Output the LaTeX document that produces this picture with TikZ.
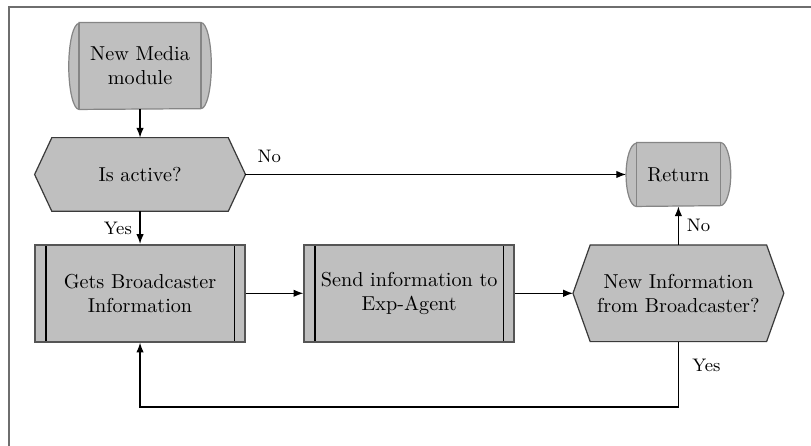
\documentclass[tikz,border=0pt]{standalone}
\usetikzlibrary{arrows.meta,positioning}
\definecolor{boxc}{HTML}{BFBFBF}
\definecolor{termc}{HTML}{858585}
\definecolor{hexc}{HTML}{3A3A3A}
\definecolor{procc}{HTML}{555555}
\definecolor{framec}{HTML}{6E6E6E}
\pgfdeclarelayer{bg}
\pgfsetlayers{bg,main}

\begin{document}
\begin{tikzpicture}[x=1cm,y=1cm,
  txt/.style={inner sep=0pt, align=center},
  lbl/.style={font=\small, inner sep=1pt},
  conn/.style={-{Latex[length=1.7mm,width=1.3mm]}, line width=0.6pt},
  termbox/.style={txt},
  hexbox/.style={txt, minimum width=3.66cm},
  procbox/.style={txt, draw=procc, line width=0.9pt, fill=boxc,
    minimum width=3.66cm, minimum height=1.69cm,
    path picture={
      \draw[black, line width=0.6pt]
        ([xshift=0.19cm]path picture bounding box.north west) -- ([xshift=0.19cm]path picture bounding box.south west)
        ([xshift=-0.19cm]path picture bounding box.north east) -- ([xshift=-0.19cm]path picture bounding box.south east);
    }}]
  \useasboundingbox (0,0) rectangle (14.13,-7.77);

  % ============================================================
  %                       PARAMETERS
  % ============================================================
  \def\bulge{0.18}     % cm of the round ends
  \def\slant{0.30}     % cm of the pointed ends

  % frame, cut by the page
  \draw[framec, line width=0.9pt] (0.16,-8.2) -- (0.16,-0.12) -- (14.6,-0.12);

  % ============================================================
  %                       NODES
  % ============================================================
  \node[termbox, minimum width=2.47cm, minimum height=1.50cm] (start) at (2.44,-1.15) {New Media\\module};
  \node[hexbox, minimum height=1.27cm] (active) at (2.44,-3.04) {Is active?};
  \node[termbox, minimum width=1.81cm, minimum height=1.10cm] (ret) at (11.82,-3.04) {Return};
  \node[procbox] (gets) at (2.44,-5.11) {Gets Broadcaster\\Information};
  \node[procbox] (send) at (7.13,-5.11) {Send information to\\Exp-Agent};
  \node[hexbox, minimum height=1.67cm] (newinfo) at (11.82,-5.11) {New Information\\from Broadcaster?};
  \coordinate (loopc) at (11.82,-7.09);

  % ============================================================
  %                       SHAPES (behind the text)
  % ============================================================
  \begin{pgfonlayer}{bg}
    \foreach \n/\h in {start/0.75, ret/0.55} {
      \draw[termc, fill=boxc, line width=0.6pt]
        ([xshift=\bulge cm]\n.north west) -- ([xshift=-\bulge cm]\n.north east)
        arc[start angle=90, end angle=-90, x radius=\bulge, y radius=\h]
        -- ([xshift=\bulge cm]\n.south west)
        arc[start angle=270, end angle=90, x radius=\bulge, y radius=\h] -- cycle;
      \draw[termc, line width=0.6pt]
        ([xshift=\bulge cm]\n.north west) -- ([xshift=\bulge cm]\n.south west)
        ([xshift=-\bulge cm]\n.north east) -- ([xshift=-\bulge cm]\n.south east);
    }
    \foreach \n in {active, newinfo} {
      \draw[hexc, fill=boxc, line width=0.6pt]
        ([xshift=\slant cm]\n.north west) -- ([xshift=-\slant cm]\n.north east) -- (\n.east)
        -- ([xshift=-\slant cm]\n.south east) -- ([xshift=\slant cm]\n.south west) -- (\n.west) -- cycle;
    }
  \end{pgfonlayer}

  % ============================================================
  %                       CONNECTORS
  % ============================================================
  \draw[conn] (start) -- (active);
  \draw[conn] (active) -- (ret);
  \node[lbl, above right=0.17cm and 0.17cm of active.east] (noA) {No};
  \draw[conn] (active) -- (gets);
  \node[lbl, below left=0.15cm and 0.1cm of active.south] (yesA) {Yes};
  \draw[conn] (gets) -- (send);
  \draw[conn] (send) -- (newinfo);
  \draw[conn] (newinfo) -- node[lbl, right=0.1cm] (noB) {No} (ret);
  \draw[conn] (newinfo.south) -- (loopc) -| (gets.south);
  \node[lbl, below right=0.27cm and 0.2cm of newinfo.south] (yesB) {Yes};

\end{tikzpicture}
\end{document}
